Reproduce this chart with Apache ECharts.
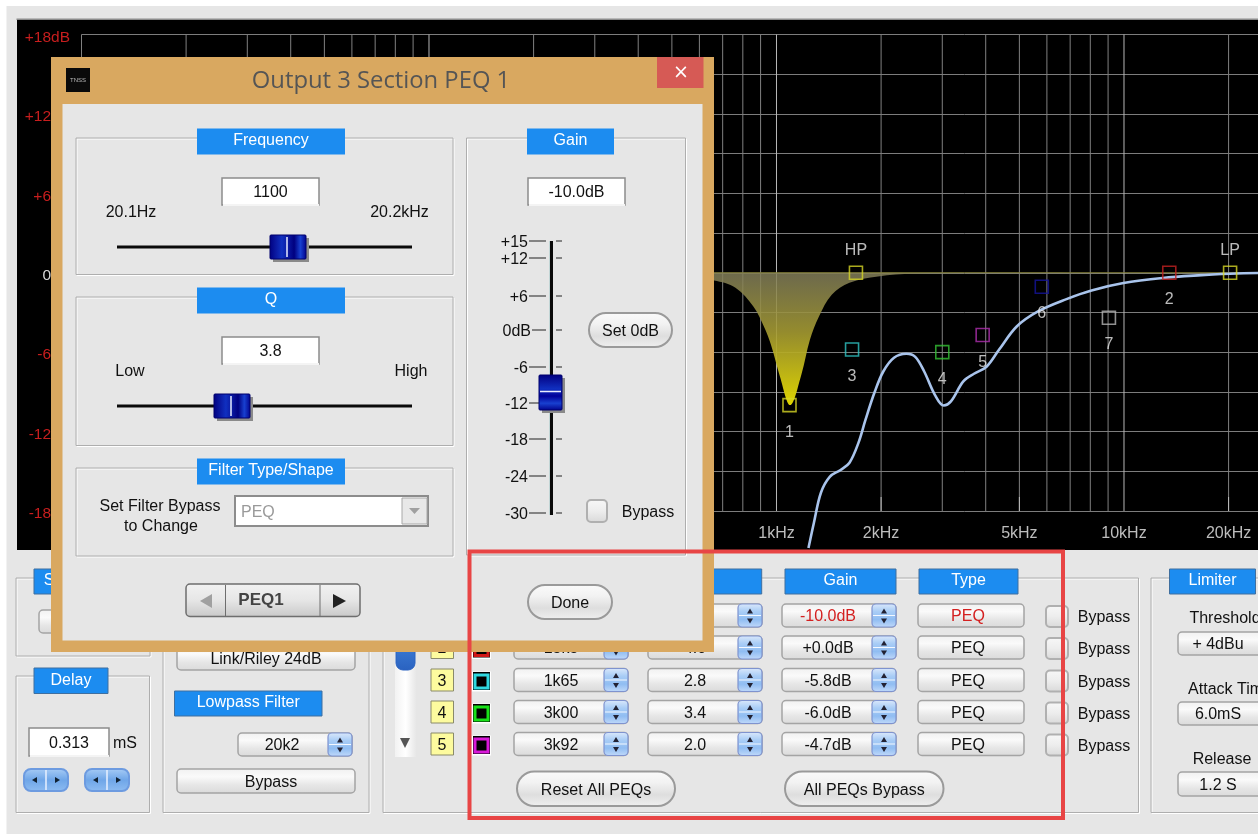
<!DOCTYPE html>
<html>
<head>
<meta charset="utf-8">
<style>html,body{margin:0;padding:0;background:#e6e6e6;overflow:hidden}#c{width:1258px;height:834px}</style>
<script src="https://cdn.jsdelivr.net/npm/echarts@6/dist/echarts.min.js"></script>
</head>
<body>
<div id="c"></div>
<script>
// ---- data ----
const gridFreqs = [10,20,30,40,50,60,70,80,90,100,200,300,400,500,600,700,800,900,1000,2000,3000,4000,5000,6000,7000,8000,9000,10000,20000];
const decadeFreqs = [100,1000,10000];
const xTickValues = [1000,2000,5000,10000,20000];
const xTickLabels = ['1kHz','2kHz','5kHz','10kHz','20kHz'];
const yTickLabels = {18:'+18dB',12:'+12dB',6:'+6dB',0:'0dB','-6':'-6dB','-12':'-12dB','-18':'-18dB'};
const responseFreq = [1236,1281,1343,1425,1529,1622,1721,1804,1913,2029,2178,2365,2508,2661,2856,3029,3176,3449,3701,4021,4368,4912,5655,6832,8063,9968,12915,16330,20184,24300,30000];
const responseGain = [-20.8,-18.9,-16.6,-15.4,-14.9,-14.35,-12.85,-11.1,-9.07,-7.46,-6.42,-6.12,-6.35,-7.46,-9.22,-10.03,-9.72,-8.21,-7.63,-7.1,-5.82,-4.06,-2.92,-1.99,-1.34,-0.78,-0.4,-0.2,-0.08,-0.02,0];
const peq1Freq = [100,500,661,762,858,920,964,1023,1095,1179,1248,1325,1442,1622,1959,2479,3850,30000];
const peq1Gain = [0,-0.2,-0.58,-1.13,-2.55,-4.06,-5.44,-7.83,-10,-7.7,-5.06,-3.3,-1.66,-0.76,-0.28,-0.08,-0.02,0];
const flatFreq = [10,30000];
const flatGain = [0,0];
const markerNames = ['HP','1','2','3','4','5','6','7','LP'];
const markerFreqs = [1693,1090,13500,1650,3000,3920,5800,9050,20200];
const markerGains = [0,-10,0,-5.8,-6,-4.7,-1.06,-3.4,0];
const rowNumbers = ['1','2','3','4','5'];
const rowFreqs = ['1k10','13k5','1k65','3k00','3k92'];
const rowQs = ['3.8','4.0','2.8','3.4','2.0'];
const rowGains = ['-10.0dB','+0.0dB','-5.8dB','-6.0dB','-4.7dB'];
const rowTypes = ['PEQ','PEQ','PEQ','PEQ','PEQ'];
const gainScaleLabels = ['+15','+12','+6','0dB','-6','-12','-18','-24','-30'];

// ---- styling ----
const markerPalette = ['#d6d626','#c42222','#30c4c4','#34c034','#b030b0','#14149c','#b4b4b4'];
const markerColors = [markerPalette[0],markerPalette[0],markerPalette[1],markerPalette[2],markerPalette[3],markerPalette[4],markerPalette[5],markerPalette[6],markerPalette[0]];
const FONT = '"Liberation Sans"';
const TAB = '#1c8cf0';
const els = [];
let zc = 10;
function grad(stops, horiz){
  return {type:'linear',x:0,y:0,x2:horiz?1:0,y2:horiz?0:1,global:false,
    colorStops:stops.map((c,i)=>({offset:i/(stops.length-1),color:c}))};
}
function R(x,y,w,h,fill,stroke,r,lw){
  els.push({type:'rect',z:zc++,silent:true,shape:{x,y,width:w,height:h,r:r||0},
    style:{fill:fill||'transparent',stroke:stroke||null,lineWidth:lw==null?1:lw}});
}
function T(text,x,y,o){
  o=o||{};
  els.push({type:'text',z:zc++,silent:true,style:{text,x,y:y+1.5,
    fill:o.color||'#111',font:(o.weight?o.weight+' ':'')+(o.size||16)+'px '+(o.family||FONT),
    align:o.align||'center',verticalAlign:'middle'}});
}
function L(x1,y1,x2,y2,c,w){
  els.push({type:'line',z:zc++,silent:true,shape:{x1,y1,x2,y2},style:{stroke:c,lineWidth:w||1}});
}
function Tri(points,c){
  els.push({type:'polygon',z:zc++,silent:true,shape:{points},style:{fill:c}});
}
function tab(x,y,w,h,text,border,tx){
  R(x,y,w,h,TAB,border?'#3f6f9f':null,0,border?1:0);
  if(text) T(text,tx==null?x+w/2:tx,y+h/2-2,{color:'#fff'});
}
function box(x,y,w,h){
  R(x+1,y+1,w,h,null,'#ffffff');
  R(x,y,w,h,null,'#aeaeae');
}
function input(x,y,w,h,text,o){
  R(x,y,w,h,'#fff','#8c8c8c',0,1.5);
  L(x+1,y+h,x+w,y+h,'#f4f4f4',2);
  T(text,x+w/2,y+h/2,o);
}
function btn(x,y,w,h,text,cx,o){
  R(x,y,w,h,grad(['#f0f0f0','#fafafa','#e6e6e6','#dadada']),'#a4a4a4',4,1.5);
  if(text) T(text,cx==null?x+w/2:cx,y+h/2,o);
}
function spinner(x,y,w,h,text,cx,o){
  btn(x,y,w,h,text,cx,o);
  const a=x+w-24;
  R(a,y,24,h,grad(['#dce9fb','#a9cdf6','#90bdf2','#c2dafa']),'#7f93cf',4,1.2);
  L(a+1,y+h/2,a+23,y+h/2,'#f4f8ff',1);
  Tri([[a+9,y+h/2-2],[a+15,y+h/2-2],[a+12,y+h/2-7]],'#223');
  Tri([[a+9,y+h/2+3],[a+15,y+h/2+3],[a+12,y+h/2+8]],'#223');
}
function pill(x,y,w,h,text){
  R(x,y,w,h,grad(['#fbfbfb','#f2f2f2','#dedede','#f0f0f0']),'#9a9a9a',h/2,2);
  T(text,x+w/2,y+h/2,{});
}
function check(x,y,w,h){
  R(x,y,w,h,grad(['#f8f8f8','#ededed','#d8d8d8']),'#b0b0b0',4,2);
}
function hThumb(x,y,w,h){
  R(x+3,y+3,w,h,'#8a8a8a');
  R(x,y,w,h,grad(['#000080','#0a18a0','#1030c0','#0a18a0','#000080','#1840d0','#00008a'],true),'#00006c',1,1);
  L(x+w/2-1,y+2,x+w/2-1,y+h-2,'#e8ecff',1.5);
}
function vThumb(x,y,w,h){
  R(x+3,y+3,w,h,'#8a8a8a');
  R(x,y,w,h,grad(['#000080','#0a18a0','#1030c0','#00009a','#1840d0','#00008a']),'#00006c',1,1);
  L(x+1,y+h/2-1,x+w-1,y+h/2-1,'#e8ecff',1.5);
}
function stepper(x,y){
  R(x,y,44,22,grad(['#a9cdf6','#6fa6e8','#8fbdf2']),'#6d9be0',7,2);
  L(x+22,y+1,x+22,y+21,'#e8f0ff',1.5);
  Tri([[x+13,y+8],[x+13,y+14],[x+8,y+11]],'#123');
  Tri([[x+31,y+8],[x+31,y+14],[x+36,y+11]],'#123');
}

// ---- lower control panels (behind the dialog) ----
box(16,578,134,78);
tab(34,569,74,25,'S',true,49);
btn(39,610,90,23,'');
box(16,676,133.5,136.5);
tab(34,668,74,25.5,'Delay',true);
input(29,728,80,28,'0.313');
T('mS',125,742);
stepper(24,769);
stepper(85,769);
box(163,578,206,234.5);
btn(177,646,178,24,'Link/Riley 24dB',266);
tab(174.5,691,147.5,25,'Lowpass Filter',true);
spinner(238,733,114,23,'20k2',282);
btn(177,769,178,24,'Bypass',271);
box(383,578,755.5,234.5);
// scrollbar
R(395,600,21.5,157,grad(['#f2f2f2','#ffffff','#e6e6e6'],true));
R(396,610,19,60,grad(['#8fbdf2','#3f7fd8','#2a62c0']),'#2a62c0',7,1);
Tri([[400,738],[410,738],[405,748]],'#555');
// column tabs
tab(640,569,121.7,25,'Q',true);
tab(514,569,114,25,'Frequency',true);
tab(785,569,111,25,'Gain',true);
tab(919,569,99,25,'Type',true);
// rows
const rowY=[615.5,647.5,680,712,744];
const swatch=['#d6d626','#d01818','#30d8e0','#18e018','#d818d8'];
rowNumbers.forEach((n,i)=>{
  const y=rowY[i];
  R(431,y-11,22.5,22,'#fdfb9e','#8a8a6a',0,1);
  T(n,442,y,{});
  R(472,y-8.5,19,20,'#fff');
  R(473,y-8,17,18,'#000');
  R(475,y-5,13,13,'#000',swatch[i],0,3);
  const red=i===0?{color:'#d42020'}:{};
  spinner(514,y-11.5,114,23,rowFreqs[i],561,red);
  spinner(648,y-11.5,114,23,rowQs[i],695,red);
  spinner(782,y-11.5,114,23,rowGains[i],828,red);
  btn(918,y-11.5,106,23,rowTypes[i],968,red);
  check(1046,y-9.5,22,21);
  T('Bypass',1104,y+1,{});
});
pill(517,771.5,158,34.5,'Reset All PEQs');
pill(785,771.5,158.5,34.5,'All PEQs Bypass');
// limiter
box(1151,578,140,234.5);
tab(1169.5,569,86,25,'Limiter',true);
T('Threshold',1225,617);
btn(1178,632,110,23,'+ 4dBu',1218);
T('Attack Time',1230,688);
btn(1178,702,110,23,'6.0mS',1218);
T('Release',1222,758);
T('Time',1222,778);
btn(1178,772,110,24,'1.2 S',1218);

// ---- dialog ----
R(51,57,663,595,'#d9a860');
R(62.5,104,640,536.5,'#e6e6e6');
R(657,57,46.5,31,'#d65a55');
T('×',681,72,{color:'#fff',size:19,family:'"DejaVu Sans"'});
R(66,68,24,24,'#0a0a0a');
T('TNSS',78,78.5,{color:'#bbb',size:6});
T('Output 3 Section PEQ 1',381,79.5,{color:'#555',size:23.8,family:'"Open Sans"'});
// Frequency
box(76,138,377,136.5);
tab(197,128.5,148,26,'Frequency');
input(222,178,97,27,'1100');
T('20.1Hz',131,211);
T('20.2kHz',399.5,211);
L(117,247,412,247,'#0a0a0a',3);
hThumb(270,235,36,24);
// Q
box(76,297,377,148.5);
tab(197,287.5,148,26,'Q');
input(222,337,97,27,'3.8');
T('Low',130,370);
T('High',411,370);
L(117,406,412,406,'#0a0a0a',3);
hThumb(214,394,36,24);
// Filter
box(76,468,377,88);
tab(197,458.5,148,26,'Filter Type/Shape');
T('Set Filter Bypass',160,505);
T('to Change',161,525);
R(235,496,193,30,'#fff','#8c8c8c',0,2);
T('PEQ',241,511,{color:'#9a9a9a',align:'left'});
R(402,498,25,26,'#e8e8e8','#a8a8a8',0,1);
Tri([[409,508],[420,508],[414.5,514]],'#a0a0a0');
// PEQ nav
R(186,584,174,32.5,grad(['#f2f2f2','#e6e6e6','#c8c8c8']),'#6e6e6e',4,1.5);
L(225.5,585,225.5,616,'#6e6e6e',1);
L(320,585,320,616,'#6e6e6e',1);
Tri([[212,594],[212,608],[200,601]],'#a0a0a0');
Tri([[333,594],[333,608],[346,601]],'#222');
T('PEQ1',261,599,{weight:'bold',color:'#444',size:17});
pill(528,585,84,34,'Done');
// Gain
box(466.5,138,219,417);
tab(527,128.5,87,26,'Gain');
input(528,178,97,27,'-10.0dB');
const scaleY=[242,259,297,331,368,404,440,477,514];
L(550,241,550,515,'#9fc6c6',1);
L(551.5,241,551.5,515,'#0a0a0a',3);
gainScaleLabels.forEach((s,i)=>{
  const y=scaleY[i];
  T(s,i===3?531:528,y-1,{align:'right'});
  L(i===3?532:529,y-1,546,y-1,'#222',1);
  L(556,y-1,562,y-1,'#222',1);
});
vThumb(539,375,23,35);
pill(589,313,83,34,'Set 0dB');
check(587,500,20,22);
T('Bypass',648,511);
// annotation frame
R(469.5,551.5,593.5,266.5,null,'#e84545',0,4);

const backdrop=[
  {type:'rect',z:-1,silent:true,shape:{x:0,y:0,width:1258,height:834},style:{fill:'#fff'}},
  {type:'rect',z:-1,silent:true,shape:{x:6.5,y:6,width:1252,height:828},style:{fill:'#e6e6e6'}},
  {type:'rect',z:-1,silent:true,shape:{x:16.5,y:18.5,width:1242,height:1.5},style:{fill:'#8c8c8c'}},
  {type:'rect',z:-1,silent:true,shape:{x:17,y:20,width:1241,height:530},style:{fill:'#000'}}
];

const chart=echarts.init(document.getElementById('c'),null,{renderer:'canvas',width:1258,height:834});
chart.setOption({
  animation:false,
  backgroundColor:'#e6e6e6',
  textStyle:{fontFamily:FONT},
  grid:{left:81.5,top:34.5,width:1251.7,height:476.5,containLabel:false,outerBoundsMode:'none'},
  xAxis:{type:'log',logBase:10,min:10,max:40000,
    axisLine:{show:false},axisTick:{show:false},splitLine:{show:false},minorSplitLine:{show:false},
    axisLabel:{customValues:xTickValues,margin:15,fontSize:16,color:'#bdbdbd',fontFamily:FONT,
      showMinLabel:true,showMaxLabel:true,hideOverlap:false,
      formatter:v=>xTickLabels[xTickValues.findIndex(t=>Math.abs(t-v)<1)]||''}},
  yAxis:{type:'value',min:-18,max:18,interval:3,
    axisLine:{show:false},axisTick:{show:false},
    splitLine:{show:true,lineStyle:{color:'#7c7c7c',width:1}},
    axisLabel:{margin:11.5,fontSize:15.5,fontFamily:FONT,align:'right',showMinLabel:true,showMaxLabel:true,
      verticalAlign:'top',lineHeight:6,
      color:v=>Number(v)===0?'#d8d8d8':'#c81e1e',
      formatter:v=>yTickLabels[v]||''}},
  graphic:{elements:backdrop.concat(els)},
  series:[
    {type:'custom',z:1,silent:true,clip:false,coordinateSystem:'cartesian2d',
      data:gridFreqs.map(f=>[f,0]),
      renderItem:(p,api)=>{
        const f=api.value(0);
        const a=api.coord([f,18]),b=api.coord([f,-18]);
        const major=decadeFreqs.includes(f);
        const kids=[{type:'line',shape:{x1:a[0],y1:a[1],x2:b[0],y2:b[1]},style:{stroke:major?'#b8b8b8':'#808080',lineWidth:1}}];
        if(xTickValues.includes(f)&&!major) kids.push({type:'line',shape:{x1:b[0],y1:b[1]-14,x2:b[0],y2:b[1]},style:{stroke:'#bdbdbd',lineWidth:1}});
        return {type:'group',children:kids};
      }},
    {type:'line',z:3,silent:true,symbol:'none',smooth:0.35,clip:false,
      data:peq1Freq.map((f,i)=>[f,peq1Gain[i]]),
      lineStyle:{width:0},
      areaStyle:{origin:0,opacity:1,color:{type:'linear',x:0,y:0,x2:0,y2:1,global:false,colorStops:[
        {offset:0,color:'rgba(128,124,90,0.85)'},{offset:0.45,color:'rgba(165,155,50,0.9)'},{offset:1,color:'rgba(222,212,0,1)'}]}}},
    {type:'line',z:3,silent:true,symbol:'none',clip:false,
      data:flatFreq.map((f,i)=>[f,flatGain[i]]),
      lineStyle:{width:1,color:'#86823a'}},
    {type:'line',z:4,silent:true,symbol:'none',smooth:0.35,clip:false,
      data:responseFreq.map((f,i)=>[f,responseGain[i]]),
      lineStyle:{width:2.6,color:'#a9c4ec'}},
    {type:'scatter',z:5,silent:true,clip:false,symbol:'rect',symbolSize:13,
      data:markerFreqs.map((f,i)=>{
        const top=markerNames[i]==='HP'||markerNames[i]==='LP';
        return {value:[f,markerGains[i]],name:markerNames[i],
          itemStyle:{color:'rgba(0,0,0,0)',borderColor:markerColors[i],borderWidth:1.6},
          label:{show:true,formatter:markerNames[i],position:top?'top':'bottom',distance:top?7:12,
            color:'#e8e8e8',fontSize:16,fontFamily:FONT}};
      })}
  ]
});
</script>
</body>
</html>
